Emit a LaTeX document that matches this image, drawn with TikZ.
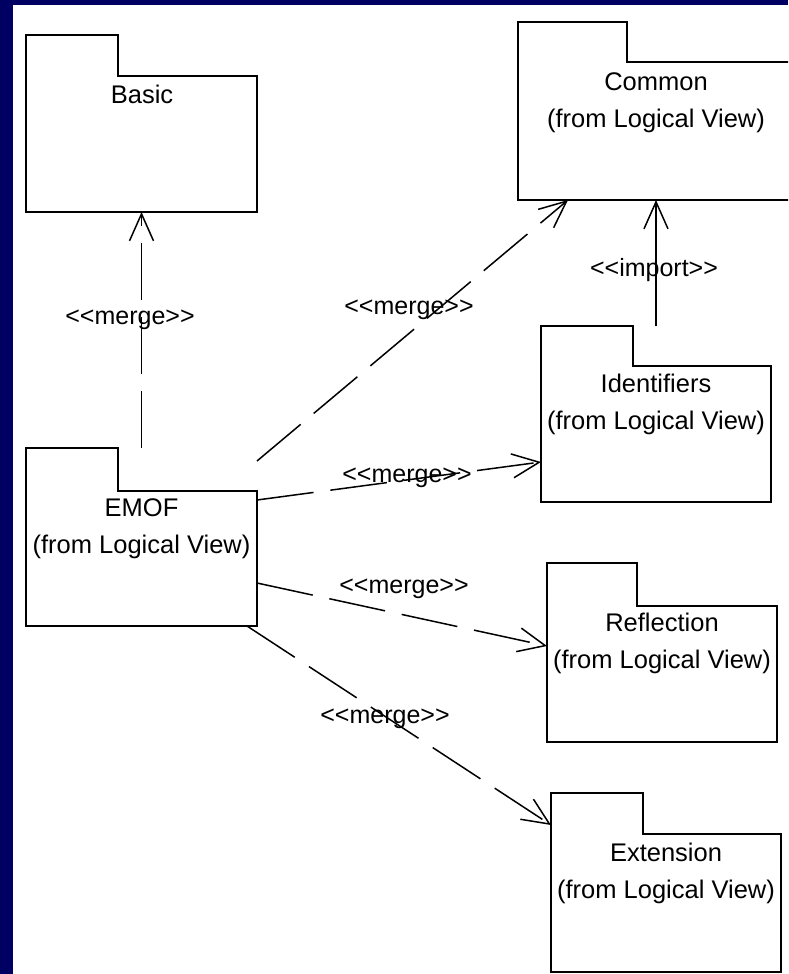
\documentclass[tikz,border=0pt]{standalone}
\usepackage{fontspec}
\setmainfont{Liberation Sans}
\usetikzlibrary{arrows.meta,calc}

\definecolor{slidenavy}{RGB}{0,0,98}

% guillemet-free stereotype brackets (kerns stop the << >> font mapping)
\newcommand\stereo[1]{<\kern0pt<#1>\kern0pt>}

% UML package outline: #1 node name, #2 tab width, #3 tab height
\newcommand\pkgshape[3]{%
  \draw[pkgline] (#1.north west) -- ++(#2,0) -- ++(0,#3)
    -| (#1.south east) -- (#1.south west) -- cycle;}

\begin{document}
\begin{tikzpicture}[x=1pt,y=-1pt,
  pkg/.style={inner sep=0pt, outer sep=0pt, anchor=north west},
  pkgline/.style={draw=black, line width=1.8pt, line join=miter},
  pkgtitle/.style={font=\fontsize{25.5}{37}\selectfont, inner sep=0pt,
    anchor=base, align=center},
  tag/.style={font=\fontsize{25}{30}\selectfont, inner sep=0pt, anchor=base},
  barb/.tip={Straight Barb[length=27pt,width=24pt]},
  dep/.style={line width=1.5pt, dash pattern=on 57pt off 17pt, -barb},
  imp/.style={line width=1.5pt, -barb}]

  % slide background with its navy frame
  \useasboundingbox (0,0) rectangle (788,974);
  \clip (0,0) rectangle (788,974);
  \fill[slidenavy] (0,0) rectangle (788,974);
  \fill[white] (13,5) rectangle (788,974);

  % packages (full extent, tab included)
  \node[pkg, minimum width=231pt, minimum height=177pt] (basic) at (26,35) {};
  \node[pkg, minimum width=276pt, minimum height=178pt] (common) at (518,22) {};
  \node[pkg, minimum width=231pt, minimum height=178pt] (emof) at (26,448) {};
  \node[pkg, minimum width=230pt, minimum height=176pt] (identifiers) at (541,326) {};
  \node[pkg, minimum width=230pt, minimum height=179pt] (reflection) at (547,563) {};
  \node[pkg, minimum width=230pt, minimum height=179pt] (extension) at (551,793) {};

  \pkgshape{basic}{92}{41}
  \pkgshape{common}{109}{40}
  \pkgshape{emof}{92}{43}
  \pkgshape{identifiers}{92}{40}
  \pkgshape{reflection}{90}{43}
  \pkgshape{extension}{92}{41}

  % package titles (anchored on the baseline of the last line)
  \node[pkgtitle] (basictitle) at (142,103) {Basic};
  \node[pkgtitle] (commontitle) at (656,127) {Common\\(from Logical View)};
  \node[pkgtitle] (emoftitle) at (141.5,553) {EMOF\\(from Logical View)};
  \node[pkgtitle] (identifierstitle) at (656,429) {Identifiers\\(from Logical View)};
  \node[pkgtitle] (reflectiontitle) at (662,668) {Reflection\\(from Logical View)};
  \node[pkgtitle] (extensiontitle) at (666,898) {Extension\\(from Logical View)};

  % dependencies
  \draw[dep] (emof.north) -- (basic.south);
  \draw[dep] ($(emof.north east)+(0,13)$) -- ($(common.south west)+(50,0)$);
  \draw[dep] ($(emof.north east)+(0,52)$) -- ($(identifiers.north west)+(0,136)$);
  \draw[dep] ($(emof.north east)+(0,135)$) -- ($(reflection.north west)+(0,83)$);
  \draw[dep] ($(emof.south east)+(-10,0)$) -- ($(extension.north west)+(0,32)$);
  \draw[imp] (identifiers.north) -- (identifiers.north |- common.south);

  % stereotypes
  \node[tag] (tagbasic) at (130,324) {\stereo{merge}};
  \node[tag] (tagcommon) at (409,314) {\stereo{merge}};
  \node[tag] (tagidentifiers) at (407,482) {\stereo{merge}};
  \node[tag] (tagreflection) at (404,593) {\stereo{merge}};
  \node[tag] (tagextension) at (385,723) {\stereo{merge}};
  \node[tag] (tagimport) at (654,276) {\stereo{import}};
\end{tikzpicture}
\end{document}
